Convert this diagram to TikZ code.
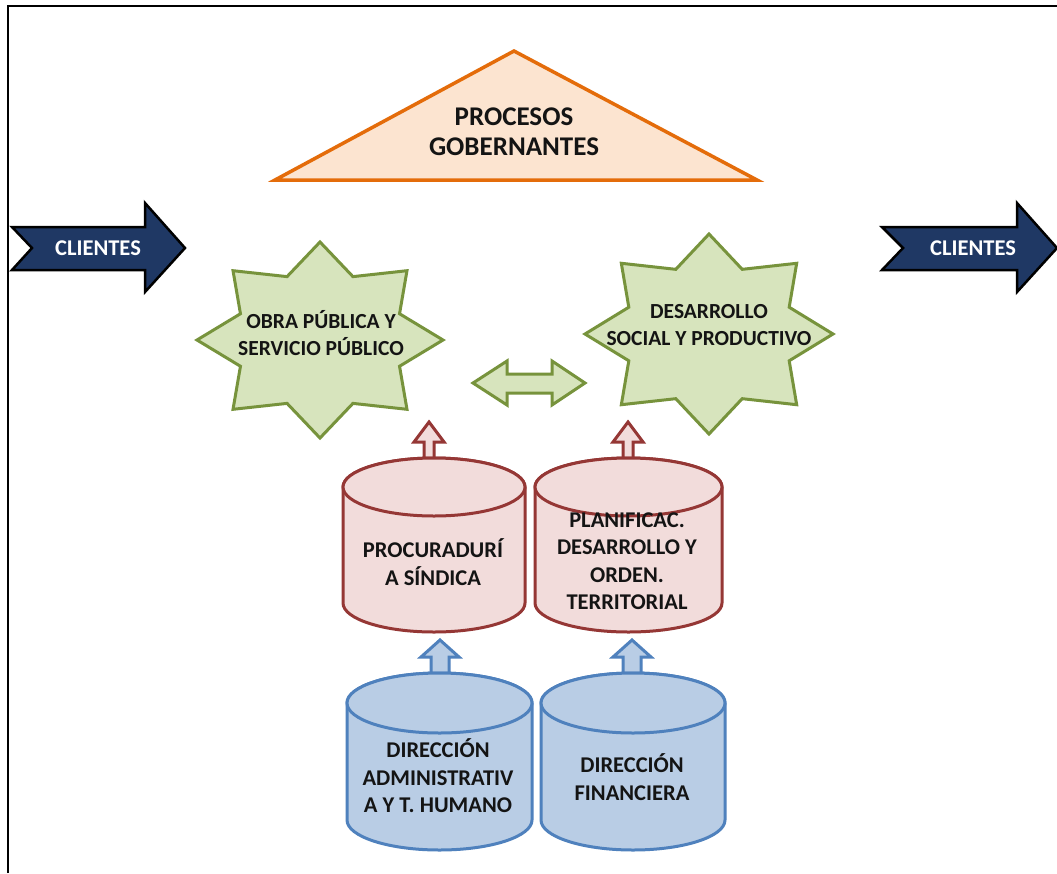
\documentclass[tikz,border=0pt]{standalone}
\usepackage{fontspec}
\setmainfont{Carlito}
\definecolor{naranja}{HTML}{E46C0A}
\definecolor{naranjaclaro}{HTML}{FCE4D0}
\definecolor{verde}{HTML}{77933C}
\definecolor{verdeclaro}{HTML}{D7E4BD}
\definecolor{rojo}{HTML}{953735}
\definecolor{rojoclaro}{HTML}{F2DCDB}
\definecolor{azul}{HTML}{4F81BD}
\definecolor{azulclaro}{HTML}{B9CDE5}
\definecolor{marino}{HTML}{1F3864}
\definecolor{tinta}{HTML}{141414}

\newcommand{\estrella}[5]{%
  \filldraw[#5] plot[samples at={0,...,15}, variable=\k]
    ({#1+#3*(1-0.3*mod(\k,2))*cos(90+22.5*\k)},
     {#2-#4*(1-0.3*mod(\k,2))*sin(90+22.5*\k)}) -- cycle;}
\newcommand{\tambor}[6]{%
  \filldraw[#6] (#1-#4,#2) -- (#1-#4,#3)
    arc[start angle=180, end angle=0, x radius=#4, y radius=#5]
    -- (#1+#4,#2)
    arc[start angle=0, end angle=-180, x radius=#4, y radius=#5] -- cycle;
  \draw[#6] (#1,#2) ellipse[x radius=#4, y radius=#5];}
\newcommand{\flechaup}[6]{%
  \filldraw[#6] (#1,#2) -- (#1+#4,#3) -- (#1+#5,#3) -- (#1+#5,#3+20)
    -- (#1-#5,#3+20) -- (#1-#5,#3) -- (#1-#4,#3) -- cycle;}

\tikzset{
  texto/.style={font=\bfseries\fontsize{21.5}{27}\selectfont, align=center, text=tinta, inner sep=0pt},
  textocil/.style={texto, font=\bfseries\fontsize{22.5}{27.5}\selectfont},
  titulo/.style={texto, font=\bfseries\fontsize{27}{30}\selectfont},
  cliente/.style={font=\bfseries\fontsize{22.5}{25}\selectfont, text=white, inner sep=0pt},
  verdes/.style={fill=verdeclaro, draw=verde, line width=3pt, line join=miter},
  rojos/.style={fill=rojoclaro, draw=rojo, line width=3pt},
  azules/.style={fill=azulclaro, draw=azul, line width=3pt},
}

\begin{document}
\begin{tikzpicture}[x=1pt, y=-1pt]
  \useasboundingbox (0,0) rectangle (1057,873);
  \fill[white] (0,0) rectangle (1057,873);
  \draw[line width=2.5pt] (8,873) -- (8,6) -- (1057,6);

  \filldraw[fill=naranjaclaro, draw=naranja, line width=3.5pt] (514,51) -- (757,180) -- (275,180) -- cycle;
  \node (gob) at (514,132) [titulo] {PROCESOS\\GOBERNANTES};

  \filldraw[fill=marino, draw=black, line width=2.5pt] (12,227) -- (145,227) -- (145,203) -- (185,248)
    -- (145,292) -- (145,270) -- (12,270) -- (32,248) -- cycle;
  \filldraw[fill=marino, draw=black, line width=2.5pt] (882,227) -- (1017,227) -- (1017,203) -- (1057,248)
    -- (1017,292) -- (1017,270) -- (882,270) -- (903,248) -- cycle;
  \node (cli1) at (98,248) [cliente] {CLIENTES};
  \node (cli2) at (973,248) [cliente] {CLIENTES};

  \estrella{320}{340}{123}{98}{verdes}
  \estrella{709}{334}{124}{100}{verdes}
  \node (obra) at (321,333) [texto] {OBRA PÚBLICA Y\\SERVICIO PÚBLICO};
  \node (desa) at (709,325) [texto] {DESARROLLO\\SOCIAL Y PRODUCTIVO};

  \filldraw[verdes] (473,383) -- (507,361) -- (507,374) -- (552,374) -- (552,361) -- (585,383)
    -- (552,405) -- (552,393) -- (507,393) -- (507,405) -- cycle;

  \flechaup{429}{422}{442}{15}{5}{rojos}
  \flechaup{628}{422}{442}{15}{5}{rojos}
  \tambor{434}{487}{603}{91}{29}{rojos}
  \tambor{628.5}{487}{603}{93.5}{29}{rojos}
  \node (proc) at (433,562) [textocil] {PROCURADURÍ\\A SÍNDICA};
  \node (plan) at (627,561) [textocil] {PLANIFICAC.\\DESARROLLO Y\\ORDEN.\\TERRITORIAL};

  \flechaup{440}{640}{657}{19}{9}{azules}
  \flechaup{632}{640}{657}{19}{9}{azules}
  \tambor{439.5}{703}{820}{92.5}{30}{azules}
  \tambor{633}{703}{820}{92}{30}{azules}
  \node (dadm) at (438,776) [textocil] {DIRECCIÓN\\ADMINISTRATIV\\A Y T. HUMANO};
  \node (dfin) at (632,777) [textocil] {DIRECCIÓN\\FINANCIERA};
\end{tikzpicture}
\end{document}
